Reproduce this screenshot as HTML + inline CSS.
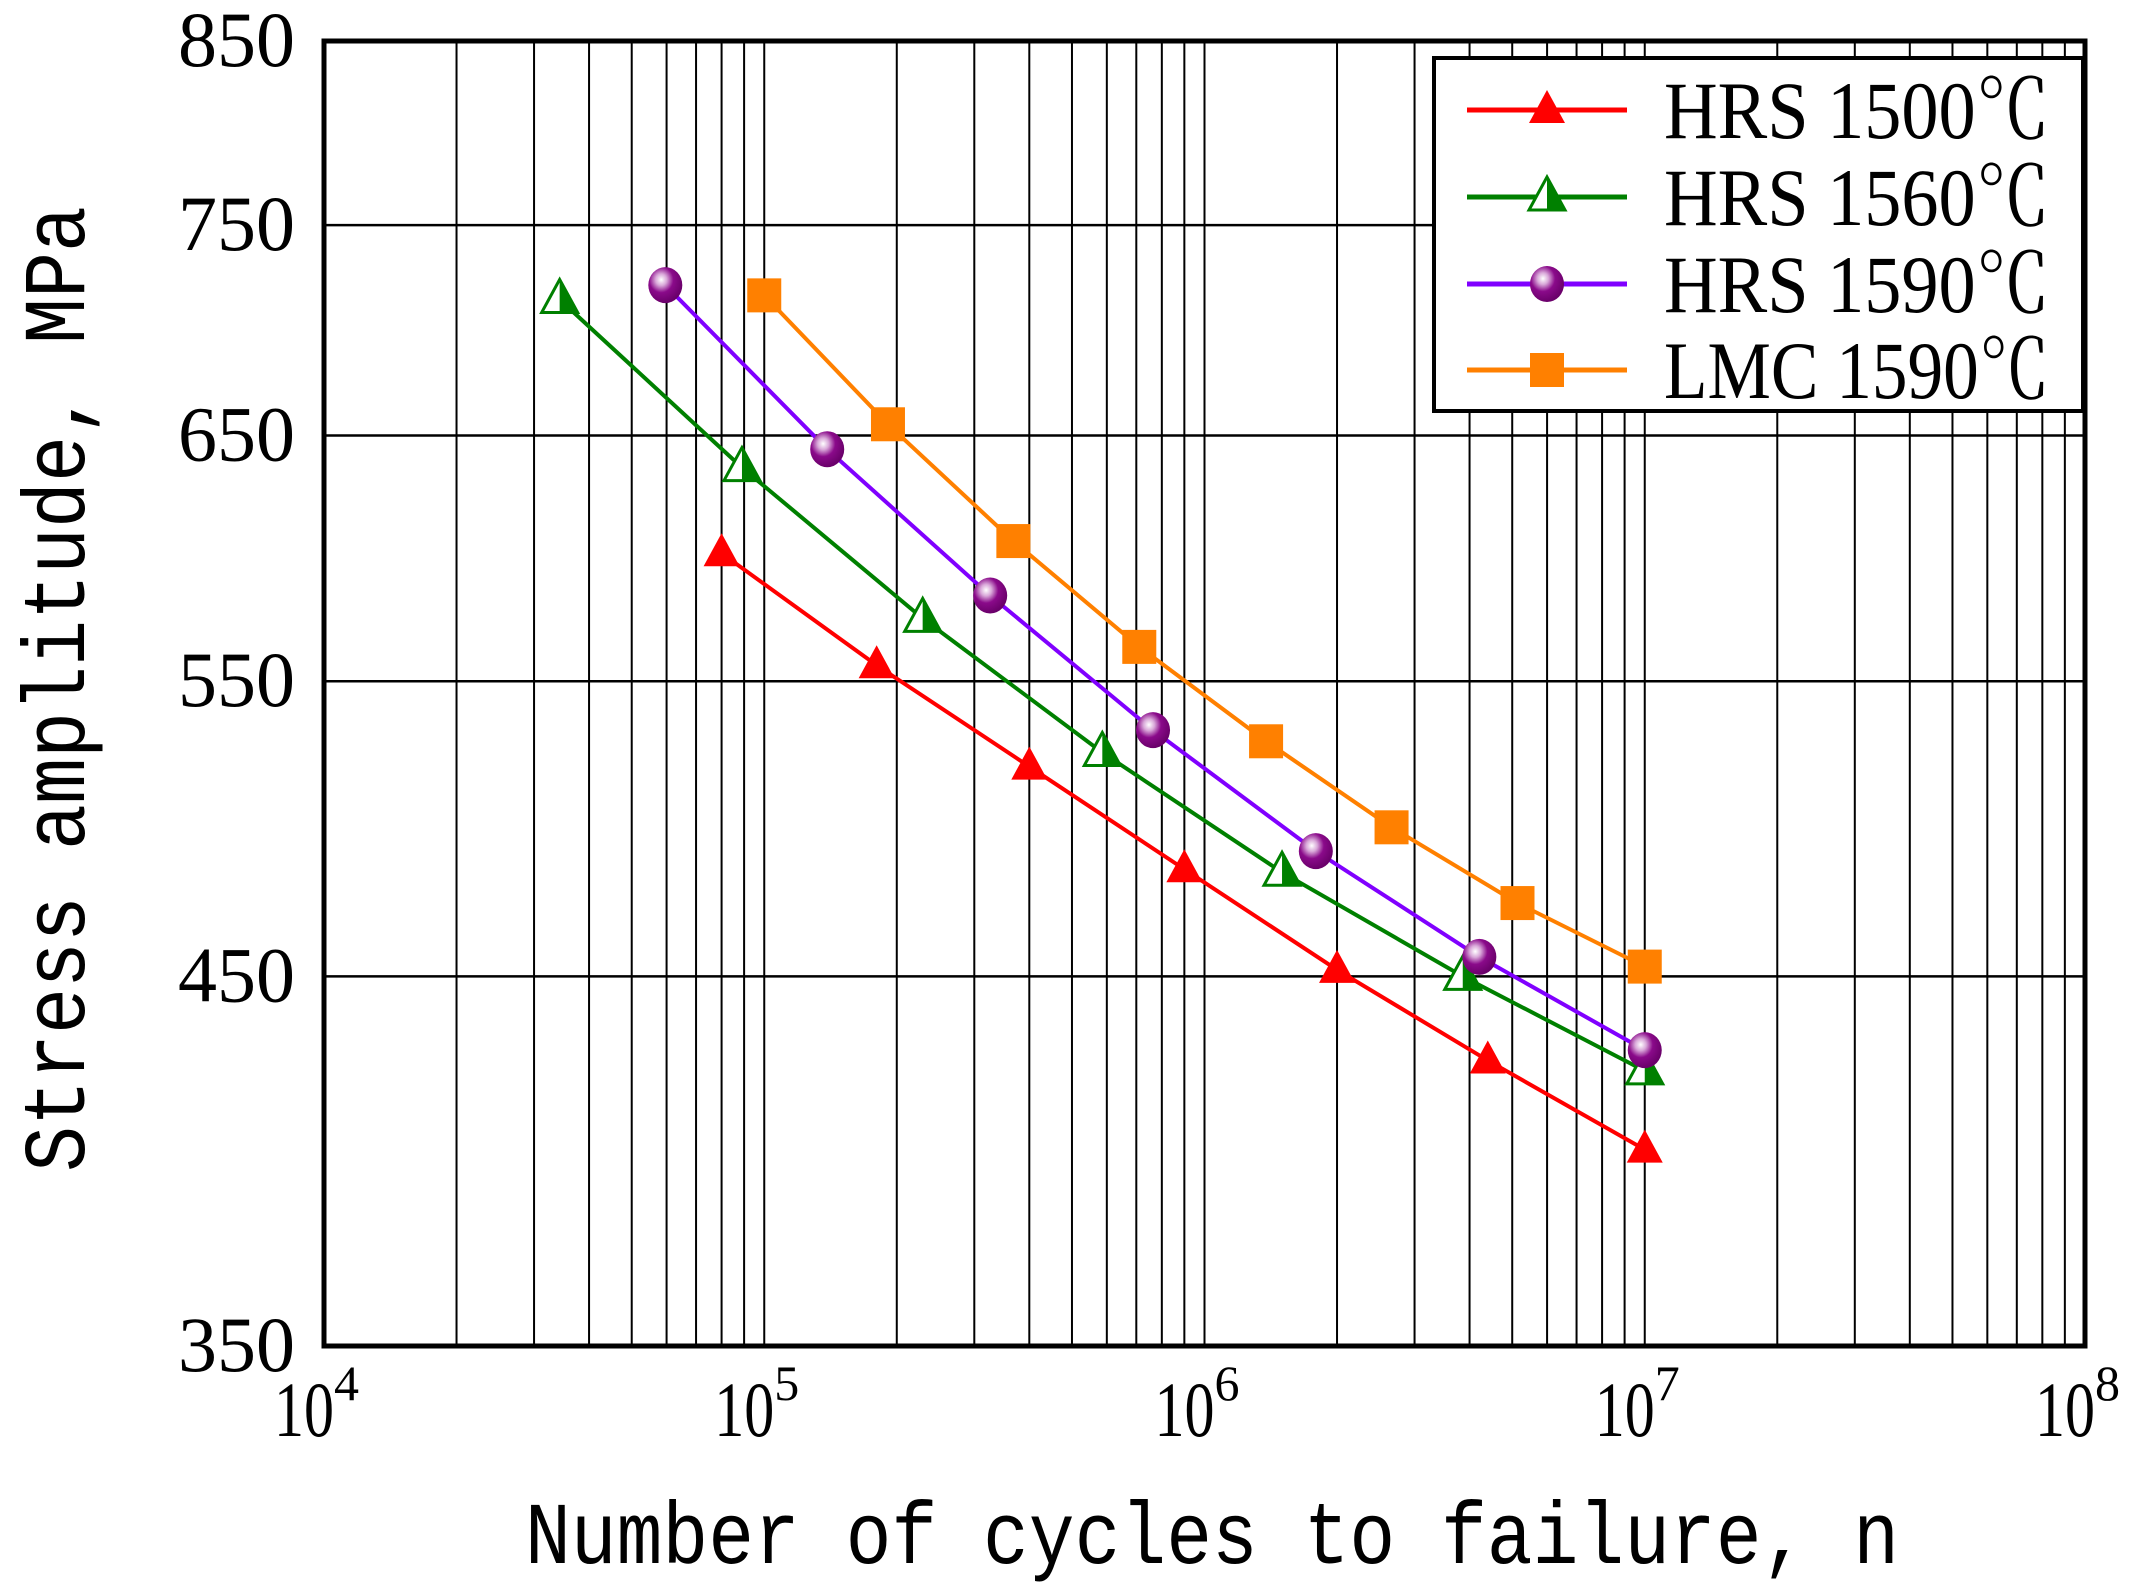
<!DOCTYPE html>
<html><head><meta charset="utf-8"><style>
html,body{margin:0;padding:0;background:#fff}
svg{display:block}
text{font-family:"Liberation Mono","Noto Serif CJK SC",monospace;fill:#000}
.num{font-family:"Liberation Serif","Noto Serif CJK SC",serif}
</style></head><body>
<svg id="chart" width="2150" height="1593" viewBox="0 0 2150 1593" xmlns="http://www.w3.org/2000/svg">
<defs>
<radialGradient id="ball" cx="0.38" cy="0.35" r="0.65">
<stop offset="0" stop-color="#ffffff"/><stop offset="0.25" stop-color="#d9a8d9"/><stop offset="0.55" stop-color="#8a0a8a"/><stop offset="1" stop-color="#6a006a"/>
</radialGradient>
</defs>
</svg>
<script>
const yTicks=[350,450,550,650,750,850];
const xDecades=[4,5,6,7,8];
const seriesNames=["HRS 1500℃","HRS 1560℃","HRS 1590℃","LMC 1590℃"];
const redX=[8e4,1.8e5,4e5,9e5,2e6,4.4e6,1e7];
const redY=[600,556,519,484,452,425,400];
const greenX=[3.43e4,8.9e4,2.29e5,5.86e5,1.5e6,3.86e6,1e7];
const greenY=[713,636,574,524,483,450,422];
const purpleX=[5.96e4,1.39e5,3.26e5,7.64e5,1.79e6,4.21e6,1e7];
const purpleY=[720,644,583,532,490,456,428];
const orangeX=[1e5,1.91e5,3.68e5,7.11e5,1.38e6,2.66e6,5.14e6,1e7];
const orangeY=[715,655,605,563,528,498,473,453];

const L=324,R=2085,T=41,B=1346;
const NS="http://www.w3.org/2000/svg";
const svg=document.getElementById('chart');
function xs(v){return L+(Math.log10(v)-4)/4*(R-L);}
function ys(v){return T+(Math.log10(850)-Math.log10(v))/(Math.log10(850)-Math.log10(350))*(B-T);}
function mk(tag,attrs,parent){const e=document.createElementNS(NS,tag);for(const k in attrs)e.setAttribute(k,attrs[k]);(parent||svg).appendChild(e);return e;}

const grid=mk('g',{});


for(let d=4;d<8;d++){for(let m=1;m<=9;m++){if(d===4&&m===1)continue;const x=xs(m*Math.pow(10,d));
const l=mk('line',{x1:x,x2:x,y1:T,y2:B,stroke:'#000','stroke-width':2},grid);

}}
yTicks.forEach(v=>{if(v===350||v===850)return;const y=ys(v);
const l=mk('line',{x1:L,x2:R,y1:y,y2:y,stroke:'#000','stroke-width':2.5},grid);

});
const frame=mk('rect',{x:L,y:T,width:R-L,height:B-T,fill:'none',stroke:'#000','stroke-width':5});



yTicks.forEach(v=>{const t=mk('text',{class:'num',x:295,y:ys(v)+25,'text-anchor':'end','font-size':78,textLength:117,lengthAdjust:'spacingAndGlyphs'});t.textContent=v;

});
xDecades.forEach(d=>{const x=xs(Math.pow(10,d));const g=mk('text',{class:'num',x:x-50,y:1436,'font-size':78});


const a=mk('tspan',{textLength:60,lengthAdjust:'spacingAndGlyphs'},g);a.textContent='10';
const b=mk('tspan',{dy:-36,'font-size':50},g);b.textContent=d;});
const xt=mk('text',{x:525,y:1563,'font-size':88,textLength:1374,lengthAdjust:'spacingAndGlyphs'});xt.textContent='Number of cycles to failure, n';


const yt=mk('text',{x:0,y:0,'font-size':88,textLength:966,lengthAdjust:'spacingAndGlyphs',transform:'translate(84,1172) rotate(-90)'});yt.textContent='Stress amplitude, MPa';



function marker(type,cx,cy,g,color){
 if(type==='tri'){return mk('polygon',{points:`${cx},${cy-20} ${cx-18},${cy+13} ${cx+18},${cy+13}`,fill:color},g);}
 if(type==='otri'){const p=mk('g',{},g);mk('polygon',{points:`${cx},${cy-20} ${cx-18},${cy+13} ${cx+18},${cy+13}`,fill:'#fff',stroke:color,'stroke-width':3},p);mk('polygon',{points:`${cx},${cy-20} ${cx+18},${cy+13} ${cx},${cy+13}`,fill:color},p);return p;}
 if(type==='ball'){return mk('ellipse',{cx:cx,cy:cy,rx:17,ry:18,fill:'url(#ball)'},g);}
 return mk('rect',{x:cx-17,y:cy-17,width:34,height:34,fill:color},g);
}
const series=[
 {name:'red',xs:redX,ys:redY,color:'#ff0000',m:'tri'},
 {name:'green',xs:greenX,ys:greenY,color:'#008000',m:'otri'},
 {name:'purple',xs:purpleX,ys:purpleY,color:'#8000ff',m:'ball'},
 {name:'orange',xs:orangeX,ys:orangeY,color:'#ff8000',m:'sq'}];
series.forEach(s=>{
 const g=mk('g',{});
 
 
 const pts=s.xs.map((v,i)=>xs(v)+','+ys(s.ys[i])).join(' ');
 const pl=mk('polyline',{points:pts,fill:'none',stroke:s.color,'stroke-width':4},g);
 
 
 s.xs.forEach((v,i)=>{const m=marker(s.m,xs(v),ys(s.ys[i]),g,s.color);
 
 });
});
const lg=mk('g',{});


mk('rect',{x:1434,y:58,width:649,height:353,fill:'#fff',stroke:'#000','stroke-width':4},lg);
const rows=[110,197,284,370];
series.forEach((s,i)=>{const y=rows[i];
 const e=mk('g',{},lg);
 
 
 mk('line',{x1:1467,x2:1627,y1:y,y2:y,stroke:s.color,'stroke-width':5},e);
 marker(s.m,1547,y,e,s.color);
 const t=mk('text',{class:'num',x:1664,y:y+28,'font-size':82,textLength:386,lengthAdjust:'spacingAndGlyphs'},e);
 t.textContent=seriesNames[i];
});
</script>
</body></html>
